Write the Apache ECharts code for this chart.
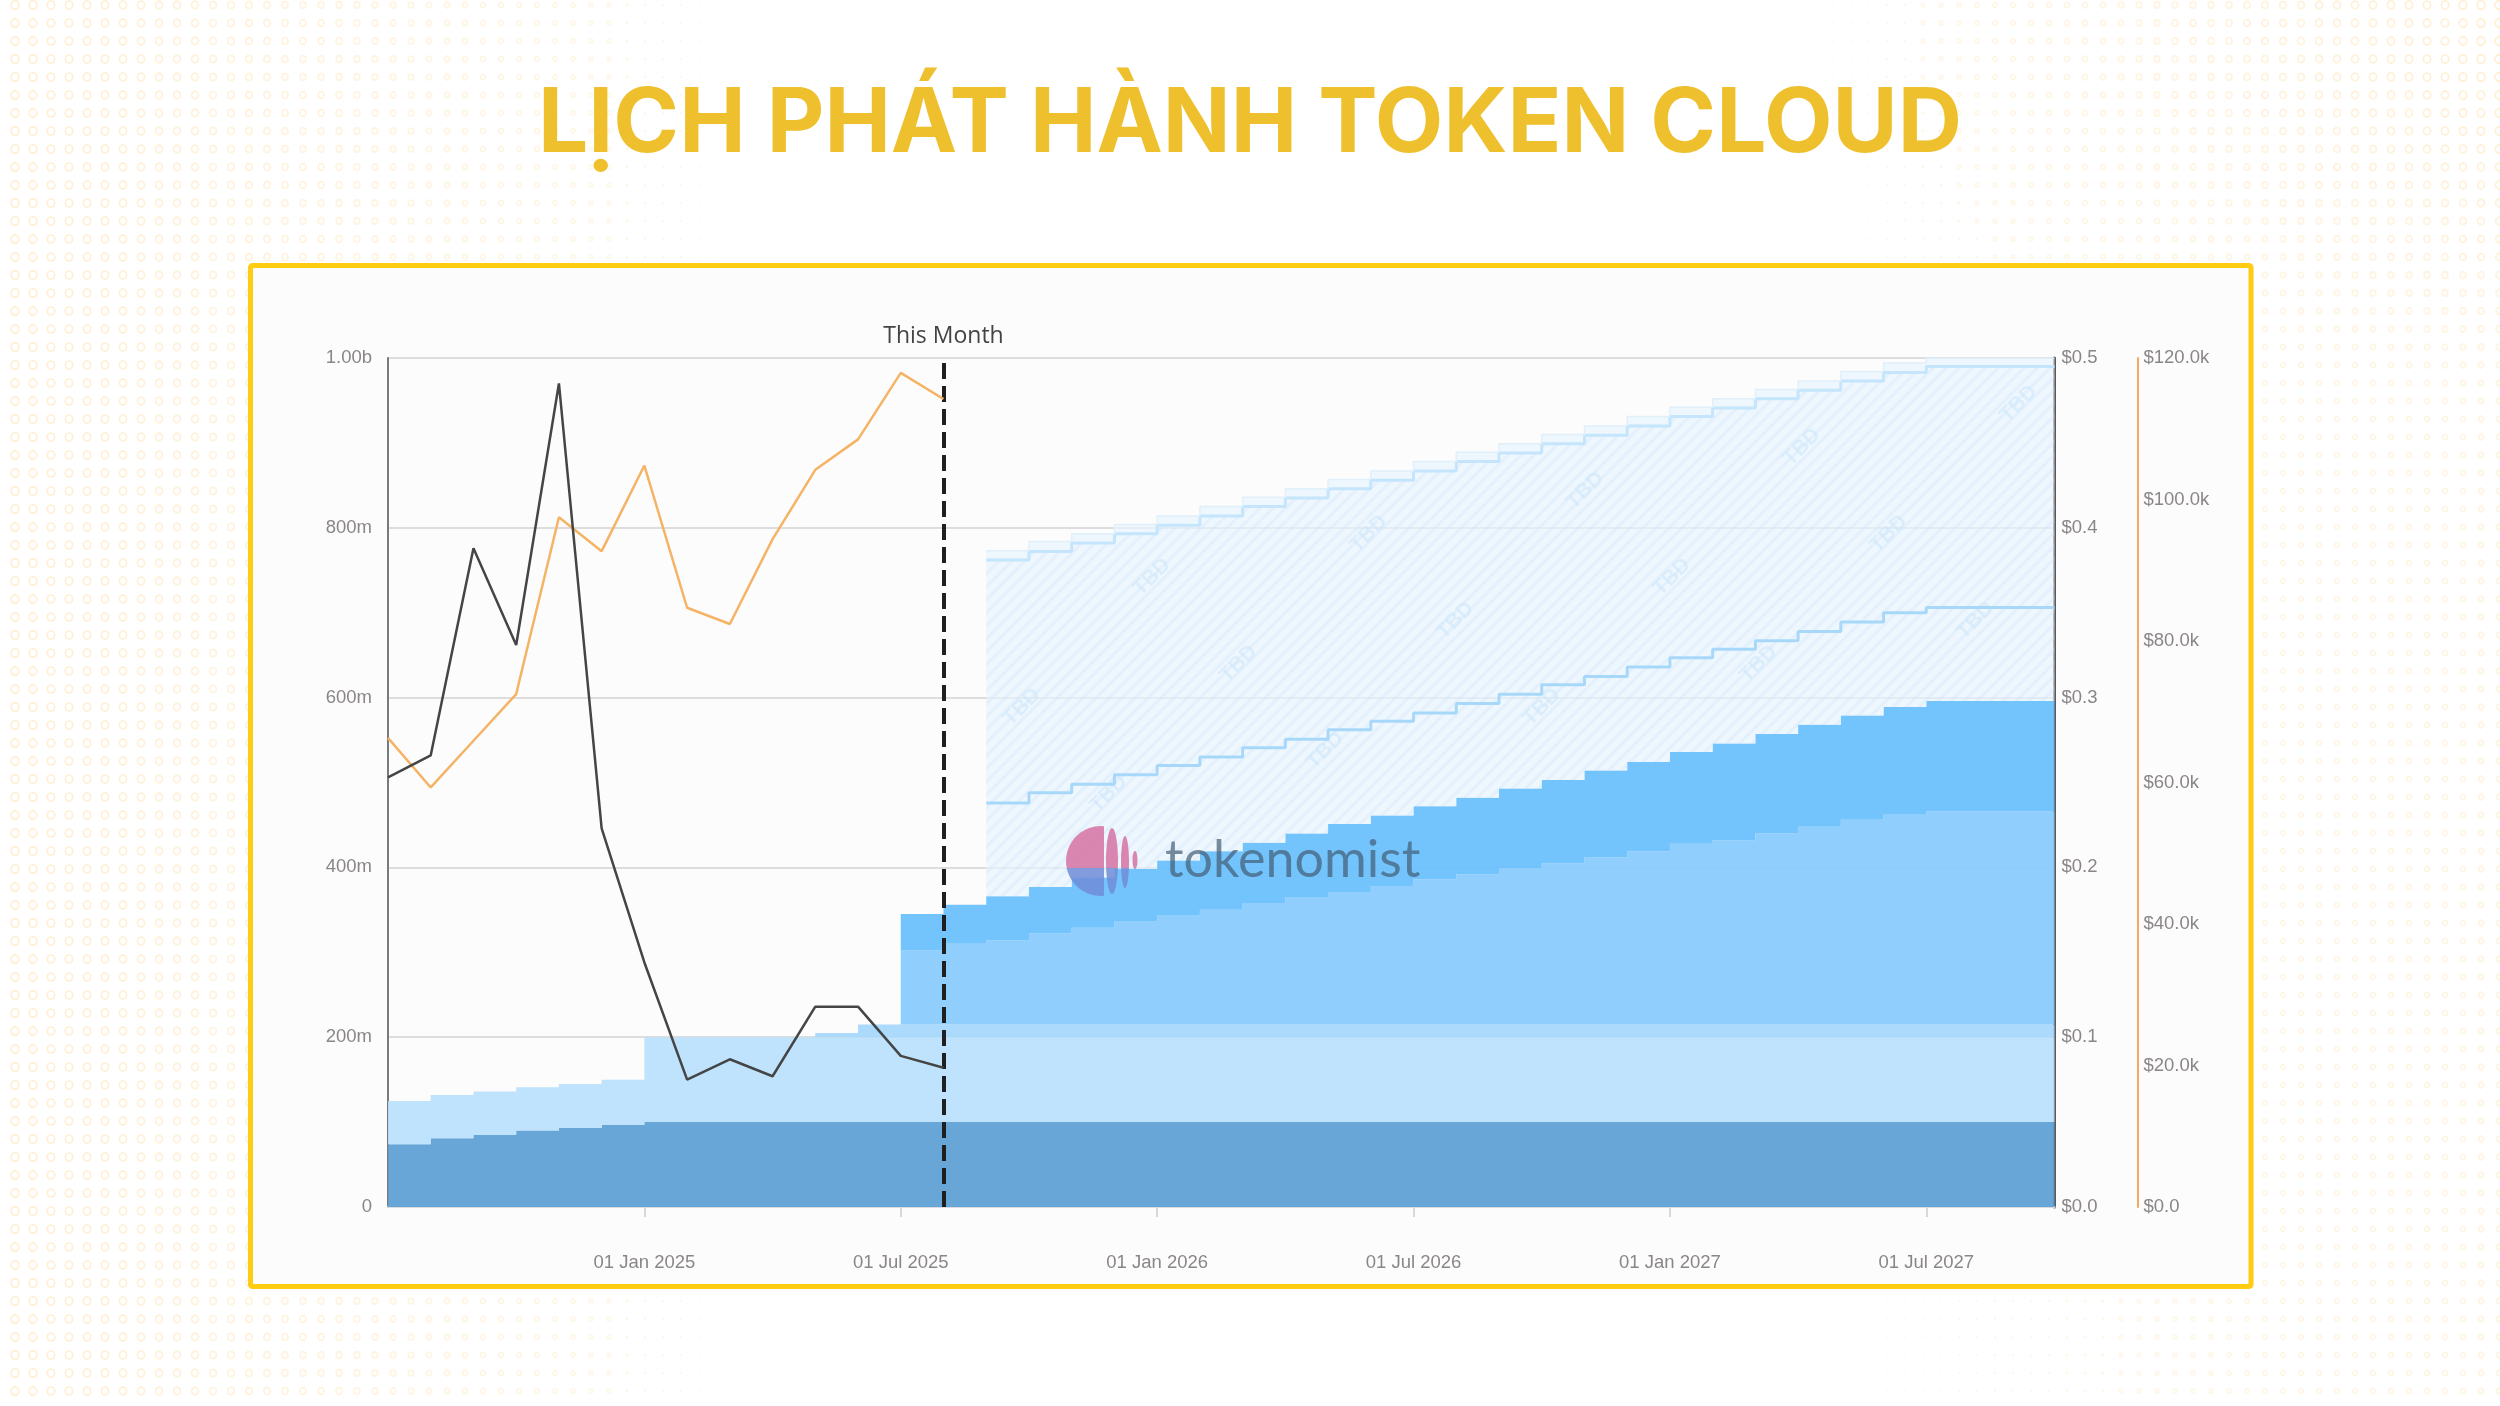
<!DOCTYPE html>
<html>
<head>
<meta charset="utf-8">
<title>Lich phat hanh token Cloud</title>
<style>
html,body{margin:0;padding:0;background:#fff}
#main{width:2500px;height:1406px}
</style>
</head>
<body>
<div id="main"></div>
<script src="https://cdn.jsdelivr.net/npm/echarts@6/dist/echarts.min.js"></script>
<script>
// months on the x axis, Jul 2024 - Oct 2027
var months = ['2024-07-01','2024-08-01','2024-09-01','2024-10-01','2024-11-01','2024-12-01',
  '2025-01-01','2025-02-01','2025-03-01','2025-04-01','2025-05-01','2025-06-01',
  '2025-07-01','2025-08-01','2025-09-01','2025-10-01','2025-11-01','2025-12-01',
  '2026-01-01','2026-02-01','2026-03-01','2026-04-01','2026-05-01','2026-06-01',
  '2026-07-01','2026-08-01','2026-09-01','2026-10-01','2026-11-01','2026-12-01',
  '2027-01-01','2027-02-01','2027-03-01','2027-04-01','2027-05-01','2027-06-01',
  '2027-07-01','2027-08-01','2027-09-01','2027-10-01'];

// top edge of every band, in millions
var topBase = [74,81,85,90,93,97, 100,100,100,100,100,100, 100,100,100,100,100,100,
  100,100,100,100,100,100, 100,100,100,100,100,100, 100,100,100,100,100,100, 100,100,100,100];
var topLight = [125,132,136,141,145,150, 200,200,200,200,200,200, 200,200,200,200,200,200,
  200,200,200,200,200,200, 200,200,200,200,200,200, 200,200,200,200,200,200, 200,200,200,200];
var topThird = [125,132,136,141,145,150, 200,200,200,200,205,215, 215,215,215,215,215,215,
  215,215,215,215,215,215, 215,215,215,215,215,215, 215,215,215,215,215,215, 215,215,215,215];
var topMid = [125,132,136,141,145,150, 200,200,200,200,205,215, 302,310,314,322,329,337,
  344,350,358,365,371,378, 386,392,399,405,412,419, 428,432,440,448,456,462, 466,466,466,466];
var topUpper = [125,132,136,141,145,150, 200,200,200,200,205,215, 345,356,366,377,388,398,
  408,419,429,440,451,461, 472,482,493,503,514,524, 536,546,557,568,579,589, 596,596,596,596];
// TBD bands start in Sep 2025
var tbdLower = [476,488,498,509,520,530,541,551,562,572,582,593,604,615,625,636,647,657,667,678,689,700,706,706,706,706];
var tbdUpper = [762,772,782,793,803,814,825,835,846,856,867,878,888,899,909,920,931,941,952,962,973,983,990,990,990,990];
var tbdCap = [773,784,793,804,814,825,836,846,857,867,878,889,899,910,920,931,942,952,963,973,984,994,1000,1000,1000,1000];

// price and market lines, Jul 2024 - Aug 2025
var priceValues = [0.253,0.266,0.388,0.331,0.485,0.223,0.144,0.075,0.087,0.077,0.118,0.118,0.089,0.082];
var volumeValues = [66.3,59.3,65.9,72.5,97.5,92.7,104.8,84.7,82.4,94.4,104.2,108.5,117.9,114.2];

var thisMonth = '2025-08-01';
var dateTicks = ['2025-01-01','2025-07-01','2026-01-01','2026-07-01','2027-01-01','2027-07-01'];
var dateLabels = ['01 Jan 2025','01 Jul 2025','01 Jan 2026','01 Jul 2026','01 Jan 2027','01 Jul 2027'];
var supplyTicks = ['0','200m','400m','600m','800m','1.00b'];
var priceTicks = ['$0.0','$0.1','$0.2','$0.3','$0.4','$0.5'];
var volumeTicks = ['$0.0','$20.0k','$40.0k','$60.0k','$80.0k','$100.0k','$120.0k'];

var axisFont = 'Liberation Sans';
var tbdStart = months.indexOf('2025-09-01');

function clamp(v) { return Math.max(0, Math.min(1, v)); }
function isDateTick(i, name) { return dateTicks.indexOf(name) >= 0; }

// background with the fading ring pattern
function makeBackground() {
  var c = document.createElement('canvas');
  c.width = 2500; c.height = 1406;
  var ctx = c.getContext('2d');
  ctx.fillStyle = '#ffffff';
  ctx.fillRect(0, 0, 2500, 1406);
  for (var y = 5; y < 1406; y += 18) {
    for (var x = 15; x < 2500; x += 18) {
      var left = clamp(1 - x / 760);
      var right = clamp((x - 1800) / 700) * Math.max(0.4, clamp(1.15 - y / 520));
      var s = Math.max(left, right);
      if (s <= 0.02) continue;
      var r = 4.3 * Math.sqrt(s);
      ctx.globalAlpha = 0.4 + 0.6 * s;
      ctx.beginPath();
      ctx.ellipse(x, y, r * 0.9, r, 0, 0, Math.PI * 2);
      if (r < 1.8) {
        ctx.fillStyle = '#fff0d6';
        ctx.fill();
      } else {
        ctx.strokeStyle = '#fff0d6';
        ctx.lineWidth = 1.9;
        ctx.stroke();
      }
    }
  }
  return c;
}

// hatch tile with the repeated TBD stamp
function makeHatch() {
  var size = 520;
  var c = document.createElement('canvas');
  c.width = size; c.height = size;
  var ctx = c.getContext('2d');
  ctx.fillStyle = 'rgba(232,245,255,0.65)';
  ctx.fillRect(0, 0, size, size);
  ctx.strokeStyle = 'rgba(205,230,248,0.35)';
  ctx.lineWidth = 3.5;
  for (var i = -40; i < 80; i++) {
    ctx.beginPath();
    ctx.moveTo(i * 13, size);
    ctx.lineTo(i * 13 + size, 0);
    ctx.stroke();
  }
  ctx.fillStyle = 'rgba(205,230,248,0.6)';
  ctx.font = 'bold 21px "Liberation Sans"';
  ctx.textAlign = 'center';
  ctx.textBaseline = 'middle';
  var seen = {};
  for (var a = -6; a <= 6; a++) {
    for (var b = -6; b <= 6; b++) {
      var px = 1022 + a * 86.67 + b * 130;
      var py = 707 + a * 86.67 - b * 130;
      px = ((px % size) + size) % size;
      py = ((py % size) + size) % size;
      var key = Math.round(px) % size + '_' + Math.round(py) % size;
      if (seen[key]) continue;
      seen[key] = 1;
      [-size, 0, size].forEach(function (ox) {
        [-size, 0, size].forEach(function (oy) {
          ctx.save();
          ctx.translate(px + ox, py + oy);
          ctx.rotate(-Math.PI / 4);
          ctx.fillText('TBD', 0, 0);
          ctx.restore();
        });
      });
    }
  }
  return c;
}

// polygon for part of an ellipse, used by the logo
function ellipsePart(cx, cy, rx, ry, yFrom, yTo, xMax) {
  var pts = [];
  for (var i = 0; i <= 72; i++) {
    var t = i / 72 * Math.PI * 2;
    var x = Math.min(cx + rx * Math.cos(t), xMax);
    var y = Math.max(yFrom, Math.min(yTo, cy + ry * Math.sin(t)));
    pts.push([x, y]);
  }
  return pts;
}

function logoPiece(cx, cy, rx, ry, xMax) {
  return [
    { type: 'polygon', z: 50, silent: true, style: { fill: 'rgba(212,110,160,0.82)' },
      shape: { points: ellipsePart(cx, cy, rx, ry, 0, 868, xMax) } },
    { type: 'polygon', z: 50, silent: true, style: { fill: 'rgba(112,140,215,0.85)' },
      shape: { points: ellipsePart(cx, cy, rx, ry, 868, 2000, xMax) } }
  ];
}

// stacked layers are the difference between neighbouring tops
function band(upper, lower) {
  return upper.map(function (v, i) {
    return +(v - (lower ? lower[i] : 0)).toFixed(2);
  });
}
function tbdBand(upper, lower) {
  return months.map(function (m, i) {
    if (i < tbdStart) return '-';
    var low = lower ? lower[i - tbdStart] : topUpper[i];
    return upper[i - tbdStart] - low;
  });
}
function stepArea(name, data, color, line) {
  return {
    name: name, type: 'line', stack: 'supply', step: 'end', yAxisIndex: 0,
    symbol: 'none', silent: true, data: data, z: 2,
    lineStyle: line || { width: 0 },
    areaStyle: { color: color, opacity: 1 }
  };
}

var hatch = { image: makeHatch(), repeat: 'repeat' };

var myChart = echarts.init(document.getElementById('main'), null, { renderer: 'canvas', devicePixelRatio: 1 });
myChart.setOption({
  animation: false,
  backgroundColor: { image: makeBackground(), repeat: 'no-repeat' },
  title: {
    text: 'LỊCH PHÁT HÀNH TOKEN CLOUD',
    left: 'center',
    top: 76,
    textStyle: { color: '#efc02e', fontFamily: 'Inter', fontWeight: 'bold', fontSize: 89 }
  },
  graphic: [
    { type: 'rect', z: -10, silent: true,
      shape: { x: 250.5, y: 265.5, width: 2000.5, height: 1021, r: 2 },
      style: { fill: '#fcfcfc', stroke: '#ffcc14', lineWidth: 5 } }
  ].concat(
    logoPiece(1101, 861, 35, 35, 1104),
    logoPiece(1112, 861, 6, 33, 2000),
    logoPiece(1125, 862, 4, 26, 2000),
    logoPiece(1135, 860, 2.5, 9, 2000),
    [{ type: 'text', z: 50, silent: true, x: 1165, y: 834,
      style: { text: 'tokenomist', font: '400 52px Lato', fill: 'rgba(66,92,115,0.7)' } }]
  ),
  grid: { left: 388, top: 358, width: 1666.5, height: 849 },
  xAxis: {
    type: 'category',
    data: months,
    boundaryGap: false,
    splitLine: { show: false },
    axisLine: { lineStyle: { color: '#dcdce0', width: 2 } },
    axisTick: { length: 10, interval: isDateTick, lineStyle: { color: '#d8d8d8', width: 2 } },
    axisLabel: {
      interval: isDateTick,
      margin: 46,
      color: '#8b8686',
      fontFamily: axisFont,
      fontSize: 18.5,
      formatter: function (v) { return dateLabels[dateTicks.indexOf(v)]; }
    }
  },
  yAxis: [
    {
      type: 'value', min: 0, max: 1000, interval: 200, position: 'left',
      axisLine: { show: true, lineStyle: { color: '#7a7a7a', width: 2 } },
      axisTick: { show: false },
      splitLine: { lineStyle: { color: '#dddddd', width: 2 } },
      axisLabel: { margin: 16, color: '#8b8686', fontFamily: axisFont, fontSize: 18.5,
        formatter: function (v) { return supplyTicks[v / 200]; } }
    },
    {
      type: 'value', min: 0, max: 0.5, interval: 0.1, position: 'right',
      axisLine: { show: true, onZero: false, lineStyle: { color: '#5a5a5a', width: 3 } },
      axisTick: { show: false },
      splitLine: { show: false },
      axisLabel: { margin: 7, color: '#8b8686', fontFamily: axisFont, fontSize: 18.5,
        formatter: function (v) { return priceTicks[Math.round(v * 10)]; } }
    },
    {
      type: 'value', min: 0, max: 120, interval: 20, position: 'right', offset: 83,
      axisLine: { show: true, onZero: false, lineStyle: { color: '#f5a95c', width: 2 } },
      axisTick: { show: false },
      splitLine: { show: false },
      axisLabel: { margin: 6, color: '#8b8686', fontFamily: axisFont, fontSize: 18.5,
        formatter: function (v) { return volumeTicks[v / 20]; } }
    }
  ],
  series: [
    stepArea('Base', band(topBase), 'rgba(90,158,210,0.92)'),
    stepArea('Light', band(topLight, topBase), 'rgba(186,225,253,0.92)'),
    stepArea('Third', band(topThird, topLight), 'rgba(165,215,253,0.92)'),
    stepArea('Mid', band(topMid, topThird), 'rgba(135,203,253,0.92)'),
    stepArea('Upper', band(topUpper, topMid), 'rgba(103,190,253,0.92)'),
    stepArea('TBD lower', tbdBand(tbdLower), hatch, { width: 3, color: '#a8d8f9' }),
    stepArea('TBD upper', tbdBand(tbdUpper, tbdLower), hatch, { width: 3, color: '#c4e5fb' }),
    stepArea('TBD cap', tbdBand(tbdCap, tbdUpper), 'rgba(232,245,254,0.7)', { width: 1.5, color: '#e0f0fb' }),
    {
      name: 'Volume', type: 'line', yAxisIndex: 2, symbol: 'none', silent: true, z: 5,
      lineStyle: { color: '#f5b366', width: 2.5 },
      data: volumeValues
    },
    {
      name: 'Price', type: 'line', yAxisIndex: 1, symbol: 'none', silent: true, z: 6,
      lineStyle: { color: '#454545', width: 2.5 },
      data: priceValues,
      markLine: {
        silent: true,
        symbol: 'none',
        animation: false,
        lineStyle: { color: '#1f1f1f', type: [16, 7], width: 4 },
        label: {
          position: 'end', distance: 10, formatter: 'This Month',
          color: '#444444', fontFamily: 'Open Sans', fontSize: 23
        },
        data: [{ xAxis: thisMonth }]
      }
    }
  ]
});
</script>
</body>
</html>
